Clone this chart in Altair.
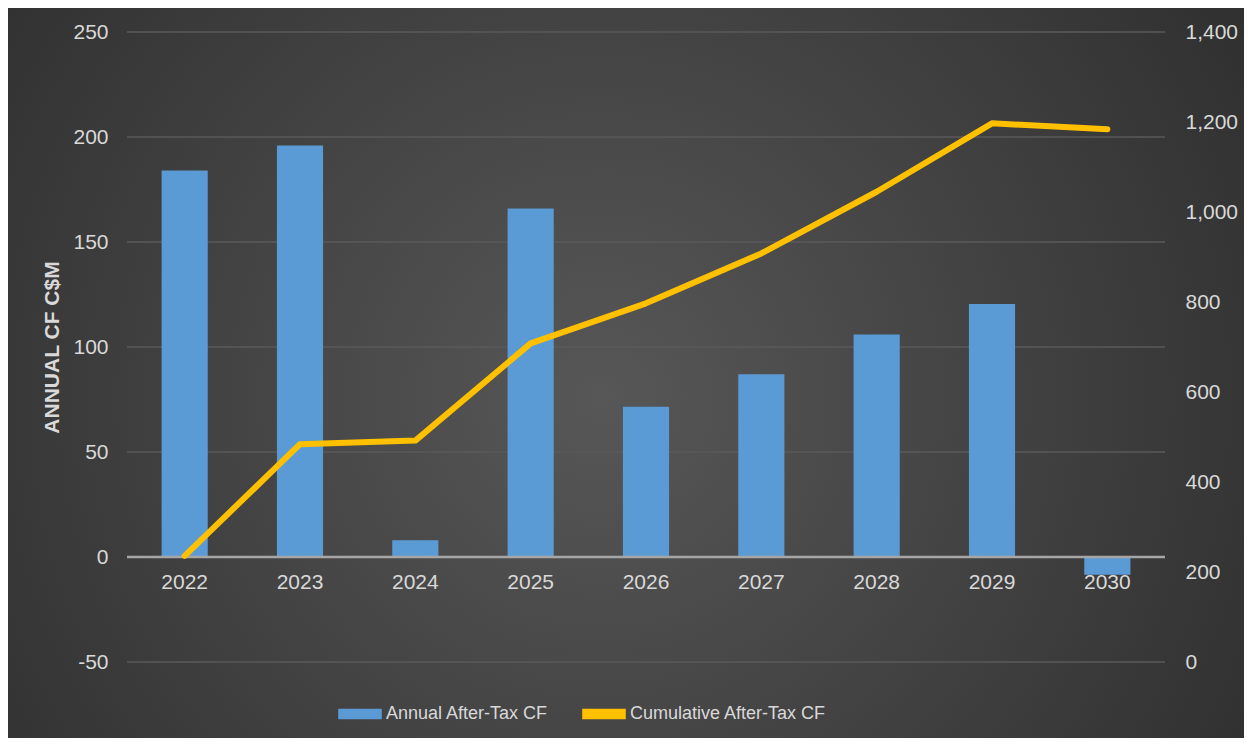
import altair as alt
import pandas as pd

years = ["2022", "2023", "2024", "2025", "2026", "2027", "2028", "2029", "2030"]
annual = [184, 196, 8, 166, 71.5, 87, 106, 120.5, -8.5]
cumulative = [236, 484, 492, 708, 797, 908, 1045, 1197, 1184]
left_ticks = [-50, 0, 50, 100, 150, 200, 250]
right_ticks = [0, 200, 400, 600, 800, 1000, 1200, 1400]
series_names = ["Annual After-Tax CF", "Cumulative After-Tax CF"]
series_colors = ["#5B9BD5", "#FFC000"]

W, H = 1038, 630
PAD_L, PAD_T, PAD_R, PAD_B = 119, 24, 79, 76
FONT = "Liberation Sans"
TXT = "#d9d9d9"

bars_df = pd.DataFrame({"year": years, "value": annual, "series": series_names[0]})
line_df = pd.DataFrame({"year": years, "value": cumulative, "series": series_names[1]})
grid_df = pd.DataFrame({"v": [t for t in left_ticks if t != 0]})
zero_df = pd.DataFrame({"v": [0]})
bg_df = pd.DataFrame({"k": [1]})

yl_scale = alt.Scale(domain=[-50, 250], nice=False, zero=False)
yr_scale = alt.Scale(domain=[0, 1400], nice=False)
color_scale = alt.Scale(domain=series_names, range=series_colors)

x_enc = alt.X(
    "year:O",
    sort=years,
    scale=alt.Scale(paddingInner=0.6, paddingOuter=0.3),
    axis=alt.Axis(
        title=None, domain=False, ticks=False, tickSize=0, labelAngle=0,
        labelPadding=14, offset=-105, labelColor=TXT, labelFont=FONT,
        labelFontSize=21, grid=False, zindex=2,
    ),
)

bg = alt.Chart(bg_df).mark_rect(
    fill=alt.RadialGradient(
        gradient="radial", x1=0.48, y1=0.52, r1=0.0, x2=0.48, y2=0.52, r2=0.75,
        stops=[alt.GradientStop(offset=0, color="#575757"),
               alt.GradientStop(offset=1, color="#262626")],
    )
).encode(
    x=alt.value(-PAD_L - 8), x2=alt.value(W + PAD_R + 8),
    y=alt.value(-PAD_T - 8), y2=alt.value(H + PAD_B + 8),
)

grid = alt.Chart(grid_df).mark_rule(color="#5a5a5a", strokeWidth=1.5).encode(
    y=alt.Y("v:Q", scale=yl_scale,
            axis=alt.Axis(
                values=left_ticks, title="ANNUAL CF C$M", titleColor=TXT,
                titleFont=FONT, titleFontSize=21, titleFontWeight="bold",
                titlePadding=10, labelColor=TXT, labelFont=FONT, labelFontSize=21,
                labelPadding=19, ticks=False, tickSize=0, domain=False, grid=False,
                labelExpr="datum.value < 0 ? '-' + abs(datum.value) : '' + datum.value",
                zindex=2,
            )),
)

bars = alt.Chart(bars_df).mark_bar().encode(
    x=x_enc,
    y=alt.Y("value:Q", scale=yl_scale),
    color=alt.Color(
        "series:N", scale=color_scale,
        legend=alt.Legend(
            title=None, orient="none", direction="horizontal",
            legendX=211, legendY=660,
            symbolType="M-1,-0.24H1V0.24H-1Z", symbolSize=1900,
            symbolStrokeWidth=0, labelColor=TXT, labelFont=FONT,
            labelFontSize=18, labelOffset=4, columnPadding=33, symbolOpacity=1,
            labelLimit=400, zindex=2,
        ),
    ),
)

zero = alt.Chart(zero_df).mark_rule(color="#a6a6a6", strokeWidth=2.5).encode(
    y=alt.Y("v:Q", scale=yl_scale)
)

left = alt.layer(bg, grid, bars, zero)

line = alt.Chart(line_df).mark_line(strokeWidth=6, strokeCap="round", strokeJoin="round").encode(
    x=alt.X("year:O", sort=years),
    y=alt.Y("value:Q", scale=yr_scale,
            axis=alt.Axis(
                orient="right", values=right_ticks, format=",.0f", title=None,
                labelColor=TXT, labelFont=FONT, labelFontSize=21, labelPadding=20,
                ticks=False, tickSize=0, domain=False, grid=False, zindex=2,
            )),
    color=alt.Color("series:N", scale=color_scale),
)

chart = alt.layer(left, line).resolve_scale(y="independent").properties(
    width=W, height=H,
    autosize=alt.AutoSizeParams(type="none"),
    padding={"left": PAD_L, "top": PAD_T, "right": PAD_R, "bottom": PAD_B},
    background="#2b2b2b",
).configure_view(stroke=None)

chart.save("out.html", embed_options={"renderer": "svg", "actions": False})
